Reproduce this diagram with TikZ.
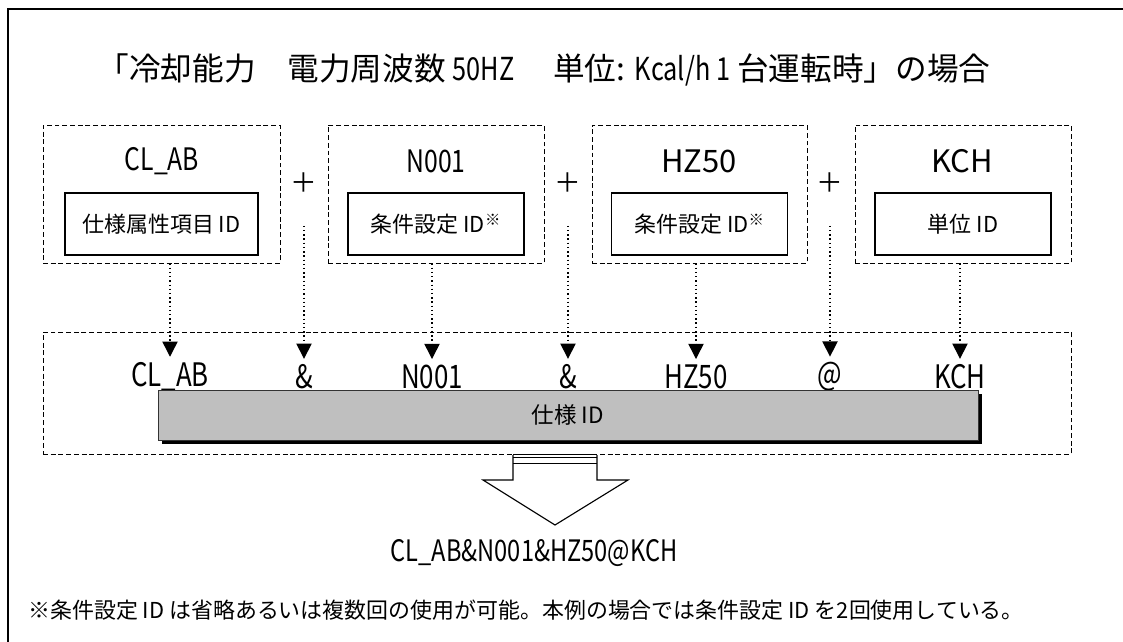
\documentclass[tikz,border=0pt]{standalone}
\usepackage{fontspec}
\setmainfont{Noto Sans CJK JP}
\newfontfamily\hankaku[FakeStretch=0.8]{Noto Sans CJK JP}
\usetikzlibrary{arrows.meta,fit,shadows}
\tikzset{
  grp/.style={draw, dash pattern=on 3.5pt off 2pt, line width=0.6pt, inner sep=0pt},
  idbox/.style={draw, line width=0.8pt, minimum height=1.55cm, font=\fontsize{15.6}{18}\selectfont},
  tag/.style={font=\fontsize{22}{24}\selectfont},
  piece/.style={font=\hankaku\fontsize{23}{25}\selectfont, inner sep=1pt},
  plus/.style={font=\fontsize{19}{20}\selectfont},
  feed/.style={line width=1pt, dotted, shorten >=3pt, -{Triangle[length=0.38cm,width=0.38cm]}},
  spec/.style={draw=black!80, fill=black!25, line width=0.5pt, inner sep=0pt,
    drop shadow={shadow xshift=0.09cm, shadow yshift=-0.09cm, fill=black, opacity=1}},
}
\begin{document}
\begin{tikzpicture}[x=0.025cm, y=-0.025cm]
  \useasboundingbox (0,0) rectangle (1123,642);
  \draw[line width=1.1pt] (8,650) -- (8,9) -- (1130,9);

  \node[font=\fontsize{22.5}{24}\selectfont] (title) at (544,70)
    {「冷却能力　電力周波数 {\hankaku 50HZ}　 単位: {\hankaku Kcal/h 1} 台運転時」の場合};

  % the four parts
  \node[grp, fit={(43,125) (280,263)}] (g1) {};
  \node[grp, fit={(328,125) (544,263)}] (g2) {};
  \node[grp, fit={(592,125) (807,263)}] (g3) {};
  \node[grp, fit={(855,125) (1071,263)}] (g4) {};

  \node[tag, font=\hankaku\fontsize{22}{24}\selectfont] (t1) at (162,161) {CL\_AB};
  \node[tag, font=\hankaku\fontsize{22}{24}\selectfont] (t2) at (436,161) {N001};
  \node[tag] (t3) at (699,161) {HZ50};
  \node[tag] (t4) at (962,161) {KCH};

  \node[idbox, minimum width=4.825cm] (i1) at (161.5,224) {仕様属性項目 ID};
  \node[idbox, minimum width=4.4cm] (i2) at (436,224) {条件設定 ID\textsuperscript{※}};
  \node[idbox, minimum width=4.4cm] (i3) at (699.5,224) {条件設定 ID\textsuperscript{※}};
  \node[idbox, minimum width=4.4cm] (i4) at (963,224) {単位 ID};

  \node[plus] (p1) at (304,183) {＋};
  \node[plus] (p2) at (568,183) {＋};
  \node[plus] (p3) at (830,183) {＋};

  % the joined id
  \node[grp, fit={(43,332) (1071,454)}] (row) {};
  \node[piece] (r1) at (170,377) {CL\_AB};
  \node[piece] (r2) at (304,377) {\&};
  \node[piece] (r3) at (432,377) {N001};
  \node[piece] (r4) at (568,377) {\&};
  \node[piece] (r5) at (696,377) {HZ50};
  \node[piece] (r6) at (830,377) {@};
  \node[piece] (r7) at (960,377) {KCH};

  \draw[feed] (r1 |- g1.south) -- (r1.north);
  \draw[feed] (r3 |- g2.south) -- (r3.north);
  \draw[feed] (r5 |- g3.south) -- (r5.north);
  \draw[feed] (r7 |- g4.south) -- (r7.north);
  \draw[feed] ([yshift=-1.07cm]p1.center) -- (p1 |- r2.north);
  \draw[feed] ([yshift=-1.07cm]p2.center) -- (p2 |- r4.north);
  \draw[feed] ([yshift=-1.07cm]p3.center) -- (p3 |- r6.north);

  \node[spec, fit={(158,390) (978,440)}] (bar) {};
  \node[font=\fontsize{16}{18}\selectfont] (barname) at (bar.center) {仕様 ID};

  % hollow arrow
  \draw[line width=0.8pt] (513,455) -- (513,480) -- (483,480) -- (555,525)
    -- (628,480) -- (597,480) -- (597,455);
  \draw[line width=1.1pt] (513,454.5) -- (597,454.5) (513,457.5) -- (597,457.5)
    (513,463.5) -- (597,463.5);

  \node[font=\hankaku\fontsize{21}{24}\selectfont] (result) at (534,553) {CL\_AB\&N001\&HZ50@KCH};

  \node[anchor=west, inner sep=0pt, font=\fontsize{15.6}{18}\selectfont] (note) at (28,610)
    {※条件設定 ID は省略あるいは複数回の使用が可能。本例の場合では条件設定 ID を2回使用している。};
\end{tikzpicture}
\end{document}
